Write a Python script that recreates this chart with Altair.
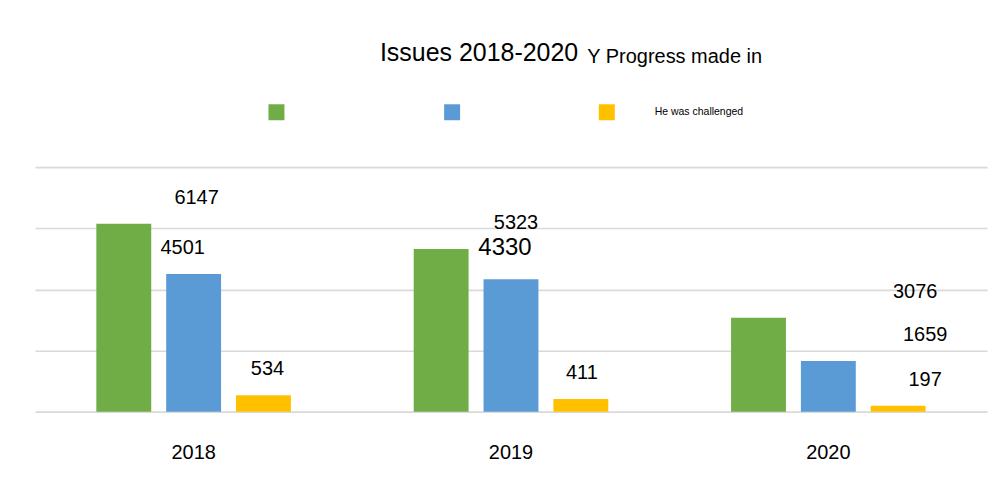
import altair as alt
import pandas as pd

years = ["2018", "2019", "2020"]
series_names = ["Progress", "Issues", "He was challenged"]
green_vals = [6147, 5323, 3076]
blue_vals = [4501, 4330, 1659]
yellow_vals = [534, 411, 197]
colors = ["#70AD47", "#5B9BD5", "#FFC000"]

# horizontal label nudges (px from the left edge of each year band)
nudge_green = [162, 164, 246]
nudge_blue = [148, 153, 256]
nudge_yellow = [233, 230, 256]

Y_MAX = 8000
PLOT_H = 245

rows = []
for i, y in enumerate(years):
    for s, vals, nd in zip(series_names, [green_vals, blue_vals, yellow_vals],
                           [nudge_green, nudge_blue, nudge_yellow]):
        rows.append({"year": y, "series": s, "value": vals[i], "lx": nd[i]})
df = pd.DataFrame(rows)

FONT = "Liberation Sans"

x_enc = alt.X(
    "year:N",
    sort=years,
    scale=alt.Scale(paddingInner=0, paddingOuter=0),
    axis=alt.Axis(title=None, labelAngle=0, labelFontSize=20, labelFont=FONT,
                  labelColor="#000000", labelPadding=31, domain=False, ticks=False),
)
y_enc = alt.Y(
    "value:Q",
    scale=alt.Scale(domain=[0, Y_MAX]),
    axis=alt.Axis(values=[0, 2000, 4000, 6000, 8000], labels=False, ticks=False,
                  domain=False, grid=True, gridColor="#d9d9d9", gridWidth=1.6,
                  title="Y Progress made in", titleAngle=0, titleX=553, titleY=-105,
                  titleAlign="left", titleBaseline="alphabetic", titleFontSize=20,
                  titleFont=FONT, titleFontWeight="normal", titleColor="#000000"),
)

bars = alt.Chart(df).mark_bar().encode(
    x=x_enc,
    xOffset=alt.XOffset("series:N", sort=series_names,
                        scale=alt.Scale(paddingInner=0.214, paddingOuter=0.879)),
    y=y_enc,
    color=alt.Color(
        "series:N",
        sort=series_names,
        scale=alt.Scale(domain=series_names, range=colors),
        legend=alt.Legend(
            orient="none", legendX=234, legendY=-63, direction="horizontal",
            columns=3, title=None, symbolType="square", symbolSize=256,
            symbolStrokeWidth=0, symbolOpacity=1, labelFontSize=10.5, labelFont=FONT,
            labelOffset=40, columnPadding=99, padding=0, gridAlign="each",
            labelExpr="datum.label == 'He was challenged' ? datum.label : (datum.label == 'Progress' ? 'xxxx' : '')",
            labelColor=alt.ExprRef(
                "datum.value == 'He was challenged' ? '#000000' : 'transparent'"),
        ),
    ),
)

labels = alt.Chart(df).transform_calculate(
    ly=f"datum.value + (datum.value == 4330 ? 31 : 26) * {Y_MAX} / {PLOT_H}"
).mark_text(
    baseline="middle", font=FONT, color="#000000"
).encode(
    x=alt.X("year:N", sort=years),
    xOffset=alt.XOffset("lx:Q", scale=None),
    y=alt.Y("ly:Q", scale=alt.Scale(domain=[0, Y_MAX])),
    text=alt.Text("value:Q"),
    size=alt.condition(alt.datum.value == 4330, alt.value(24), alt.value(20)),
)

chart = (
    alt.layer(bars, labels)
    .resolve_scale(xOffset="independent")
    .properties(
        width=954,
        height=PLOT_H,
        autosize=alt.AutoSizeParams(type="none"),
        padding={"left": 27, "top": 159, "right": 10, "bottom": 60},
        title=alt.TitleParams("Issues 2018-2020", fontSize=25, font=FONT,
                              fontWeight="normal", color="#000000",
                              anchor="middle", dx=-32, offset=-40,
                              baseline="alphabetic"),
    )
    .configure_view(stroke=None)
)

chart.save("out.html", embed_options={"renderer": "svg", "actions": False})
